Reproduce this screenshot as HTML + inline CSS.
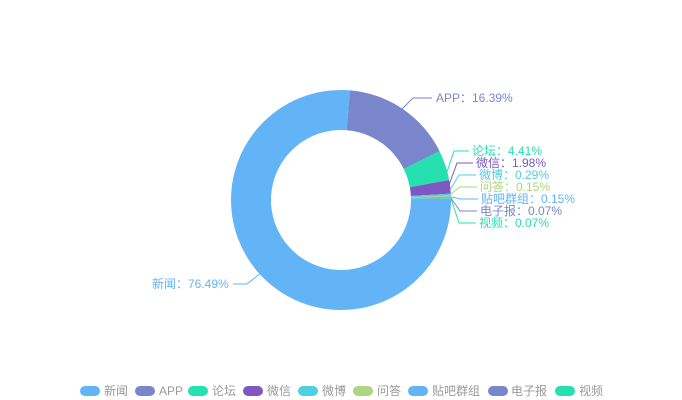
<!DOCTYPE html>
<html><head><meta charset="utf-8"><style>
html,body{margin:0;padding:0;background:#fff;}
svg{display:block;font-family:"Liberation Sans","Noto Sans CJK SC",sans-serif;font-size:12px;}
</style></head><body>
<svg id="s" width="682" height="400" viewBox="0 0 682 400">
<g id="pie"></g>
<g fill="none" stroke-width="1">
<polyline points="402,109 413,98 432,98" stroke="#7986cb"/>
<polyline points="447,172 454,151 469,151" stroke="#26e0b0"/>
<polyline points="449,185 457,163 473,163" stroke="#7e57c2"/>
<polyline points="450,190 459,175 476,175" stroke="#4dd0e1"/>
<polyline points="451,194 460,187 477,187" stroke="#aed581"/>
<polyline points="451,197 461,199 478,199" stroke="#62b4f7"/>
<polyline points="451,198 460,211 477,211" stroke="#7986cb"/>
<polyline points="451,199 459,223 476,223" stroke="#26e0b0"/>
<polyline points="261,273 247,284 233,284" stroke="#62b4f7"/>
</g>
<g dominant-baseline="central">
<text x="436" y="98" fill="#7986cb">APP：16.39%</text>
<text x="472" y="151" fill="#26e0b0">论坛：4.41%</text>
<text x="476" y="163" fill="#7e57c2">微信：1.98%</text>
<text x="479" y="175" fill="#4dd0e1">微博：0.29%</text>
<text x="480" y="187" fill="#aed581">问答：0.15%</text>
<text x="481" y="199" fill="#62b4f7">贴吧群组：0.15%</text>
<text x="480" y="211" fill="#7986cb">电子报：0.07%</text>
<text x="479" y="223" fill="#26e0b0">视频：0.07%</text>
<text x="152" y="284" fill="#62b4f7">新闻：76.49%</text>
</g>
<g dominant-baseline="central" fill="#999">
<rect x="80" y="386" width="20" height="10" rx="5" fill="#62b4f7"/><text x="104" y="391">新闻</text>
<rect x="135" y="386" width="20" height="10" rx="5" fill="#7986cb"/><text x="159" y="391">APP</text>
<rect x="188" y="386" width="20" height="10" rx="5" fill="#26e0b0"/><text x="212" y="391">论坛</text>
<rect x="243" y="386" width="20" height="10" rx="5" fill="#7e57c2"/><text x="267" y="391">微信</text>
<rect x="298" y="386" width="20" height="10" rx="5" fill="#4dd0e1"/><text x="322" y="391">微博</text>
<rect x="353" y="386" width="20" height="10" rx="5" fill="#aed581"/><text x="377" y="391">问答</text>
<rect x="408" y="386" width="20" height="10" rx="5" fill="#62b4f7"/><text x="432" y="391">贴吧群组</text>
<rect x="488" y="386" width="20" height="10" rx="5" fill="#7986cb"/><text x="511" y="391">电子报</text>
<rect x="555" y="386" width="20" height="10" rx="5" fill="#26e0b0"/><text x="579" y="391">视频</text>
</g>
</svg>
<script>
var d=[[76.49,"#62b4f7"],[16.39,"#7986cb"],[4.41,"#26e0b0"],[1.98,"#7e57c2"],[0.29,"#4dd0e1"],[0.15,"#aed581"],[0.15,"#62b4f7"],[0.07,"#7986cb"],[0.07,"#26e0b0"]];
var cx=341,cy=200,R=110,r=70,a=89.3,g=document.getElementById("pie"),h="";
function p(rad,deg){var t=deg*Math.PI/180;return (cx+rad*Math.sin(t)).toFixed(2)+","+(cy-rad*Math.cos(t)).toFixed(2);}
d.forEach(function(e){var s=e[0]*3.6,b=a+s,l=s>180?1:0;
h+='<path fill="'+e[1]+'" d="M'+p(R,a)+' A'+R+','+R+' 0 '+l+' 1 '+p(R,b)+' L'+p(r,b)+' A'+r+','+r+' 0 '+l+' 0 '+p(r,a)+' Z"/>';a=b;});
g.innerHTML=h;
</script>
</body></html>
